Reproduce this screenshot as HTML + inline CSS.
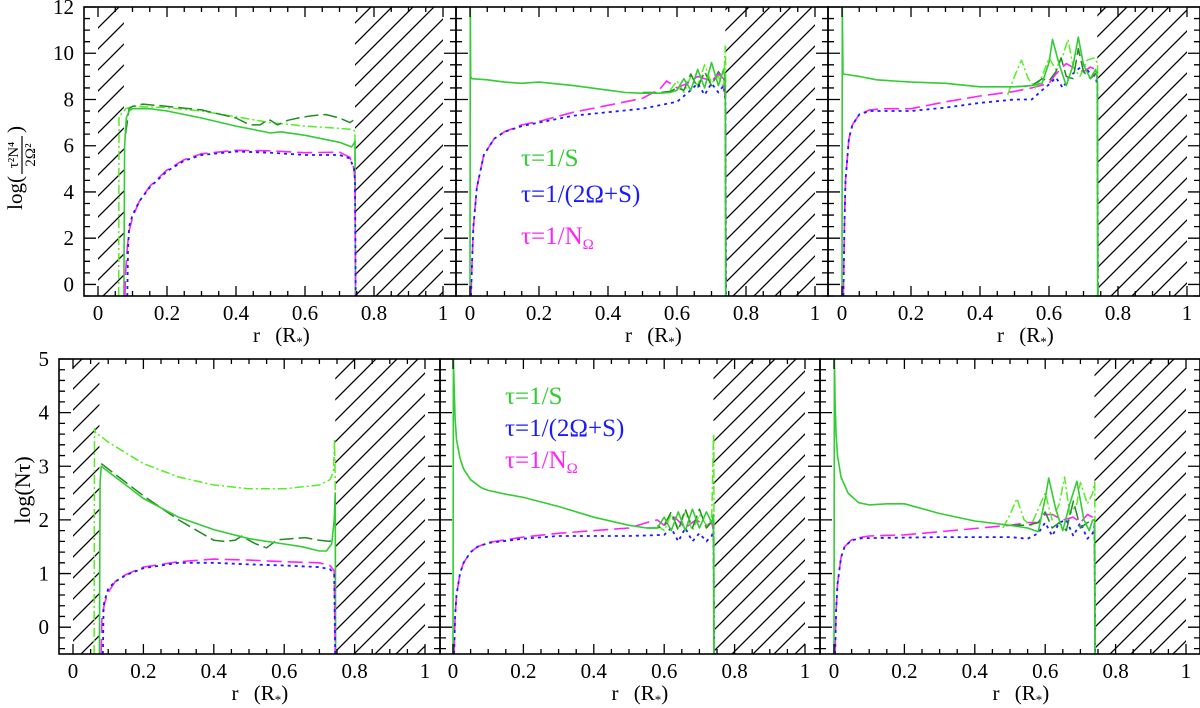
<!DOCTYPE html>
<html><head><meta charset="utf-8">
<style>
html,body{margin:0;padding:0;background:#fff;}
svg{display:block;font-family:"Liberation Serif",serif;}
</style></head>
<body>
<svg id="fig" width="1200" height="708" viewBox="0 0 1200 708" xmlns="http://www.w3.org/2000/svg">
<defs>
<pattern id="hatch" patternUnits="userSpaceOnUse" width="21" height="21">
<path d="M-2,23 L23,-2 M-2,2 L2,-2 M19,23 L23,19" stroke="#000" stroke-width="1.3"/>
</pattern>
</defs>
<g id="root"></g>
<g transform="translate(22,155) rotate(-90)">
<text x="-21" y="0" text-anchor="end" font-size="21">log(</text>
<text x="0" y="-4" text-anchor="middle" font-size="15">τ²N⁴</text>
<line x1="-19" y1="0" x2="19" y2="0" stroke="#000" stroke-width="1.2"/>
<text x="0" y="13" text-anchor="middle" font-size="15">2Ω²</text>
<text x="22" y="0" text-anchor="start" font-size="21">)</text>
</g>
</svg>
<script>
// ---------- DATA (radius r in R*, value in log units) ----------
// Top panel 1
const T1_S_r=[0.075,0.077,0.082,0.09,0.1,0.15,0.2,0.3,0.4,0.45,0.5,0.53,0.6,0.7,0.735,0.742,0.745,0.746];
const T1_S_v=[-0.5,6.0,7.2,7.5,7.6,7.6,7.5,7.2,6.85,6.7,6.55,6.6,6.45,6.15,5.95,6.1,6.2,-0.5];
const T1_D_r=[0.08,0.09,0.1,0.13,0.2,0.3,0.4,0.44,0.47,0.49,0.5,0.52,0.55,0.58,0.62,0.66,0.7,0.73,0.74];
const T1_D_v=[6.5,7.6,7.7,7.8,7.7,7.55,7.2,6.9,6.9,7.1,7.1,6.9,7.1,7.2,7.3,7.35,7.2,7.0,7.1];
const T1_C_r=[0.06,0.061,0.07,0.08,0.1,0.2,0.3,0.4,0.5,0.6,0.7,0.74,0.745,0.746];
const T1_C_v=[-0.5,7.3,7.4,7.6,7.7,7.65,7.5,7.25,7.0,6.85,6.75,6.7,6.6,-0.5];
const T1_B_r=[0.085,0.087,0.09,0.1,0.12,0.15,0.2,0.25,0.3,0.4,0.5,0.6,0.7,0.73,0.742,0.745,0.747];
const T1_B_v=[-0.5,1.5,2.5,3.0,3.6,4.2,4.9,5.35,5.6,5.75,5.7,5.6,5.6,5.45,5.0,4.5,-0.5];
const T1_M_r=[0.078,0.08,0.085,0.09,0.1,0.12,0.15,0.2,0.25,0.3,0.4,0.5,0.6,0.7,0.73,0.742,0.745,0.747];
const T1_M_v=[-0.5,0.5,1.6,2.3,2.9,3.6,4.25,4.95,5.4,5.65,5.8,5.78,5.7,5.72,5.5,5.0,4.5,-0.5];
// Top panel 2
const T2_S_r=[0.0,0.001,0.002,0.005,0.05,0.1,0.15,0.2,0.3,0.4,0.45,0.5,0.55,0.58,0.6,0.62,0.64,0.66,0.68,0.7,0.72,0.735,0.74,0.741];
const T2_S_v=[-0.5,12,9.0,8.9,8.85,8.75,8.7,8.75,8.6,8.4,8.3,8.27,8.27,8.3,8.4,8.9,8.4,9.3,8.5,9.6,8.6,9.3,8.8,-0.5];
const T2_D_r=[0.5,0.55,0.58,0.6,0.62,0.64,0.66,0.68,0.7,0.72,0.74];
const T2_D_v=[8.3,8.3,8.35,8.5,8.4,9.1,8.5,9.2,8.6,9.2,8.8];
const T2_C_r=[0.58,0.6,0.62,0.64,0.66,0.68,0.7,0.72,0.735,0.74,0.741,0.742];
const T2_C_v=[8.4,8.8,8.3,9.0,8.6,9.5,8.7,9.0,8.5,10.3,10.3,-0.5];
const T2_B_r=[0.003,0.006,0.01,0.02,0.04,0.07,0.1,0.15,0.2,0.3,0.4,0.5,0.6,0.64,0.66,0.68,0.7,0.72,0.735,0.74,0.742];
const T2_B_v=[-0.5,1.0,2.5,4.2,5.6,6.3,6.6,6.85,7.0,7.3,7.45,7.6,7.9,8.4,8.7,8.2,8.7,8.3,8.6,8.0,-0.5];
const T2_M_r=[0.003,0.006,0.01,0.02,0.04,0.07,0.1,0.15,0.2,0.3,0.4,0.5,0.55,0.57,0.6,0.63,0.66,0.7,0.72,0.735,0.74,0.742];
const T2_M_v=[-0.5,1.0,2.5,4.2,5.6,6.3,6.6,6.9,7.05,7.45,7.75,8.05,8.45,8.8,8.5,8.7,9.0,8.8,9.1,8.9,8.0,-0.5];
// Top panel 3
const T3_S_r=[0.0,0.001,0.003,0.05,0.1,0.15,0.2,0.3,0.4,0.5,0.55,0.58,0.6,0.61,0.63,0.65,0.67,0.685,0.7,0.72,0.735,0.74,0.741];
const T3_S_v=[-0.5,12,9.1,9.0,8.85,8.8,8.75,8.7,8.55,8.55,8.6,8.7,9.6,10.6,9.5,8.6,9.5,10.7,9.5,8.9,9.3,9.0,-0.5];
const T3_D_r=[0.5,0.55,0.58,0.6,0.62,0.635,0.65,0.67,0.685,0.7,0.72,0.74];
const T3_D_v=[8.55,8.6,8.9,8.8,9.2,9.8,9.0,8.9,10.2,9.2,8.9,9.2];
const T3_C_r=[0.48,0.5,0.52,0.54,0.56,0.58,0.6,0.62,0.64,0.655,0.67,0.69,0.71,0.73,0.74,0.741,0.742];
const T3_C_v=[8.2,9.0,9.7,8.9,8.5,9.0,9.8,9.3,9.9,10.6,9.4,9.0,9.7,9.8,9.6,9.6,-0.5];
const T3_B_r=[0.004,0.007,0.01,0.02,0.03,0.05,0.08,0.12,0.2,0.3,0.4,0.5,0.55,0.58,0.6,0.62,0.64,0.66,0.7,0.72,0.735,0.74,0.742];
const T3_B_v=[-0.5,2.5,4.5,6.3,6.9,7.35,7.5,7.5,7.5,7.65,7.85,8.0,8.0,8.4,8.65,8.95,8.5,9.0,9.5,9.1,9.0,8.6,-0.5];
const T3_M_r=[0.004,0.007,0.01,0.02,0.03,0.05,0.08,0.12,0.2,0.3,0.4,0.5,0.55,0.6,0.62,0.65,0.68,0.7,0.72,0.735,0.74,0.742];
const T3_M_v=[-0.5,2.5,4.5,6.3,6.9,7.35,7.55,7.6,7.6,7.9,8.15,8.35,8.5,8.7,9.1,9.55,9.3,9.2,9.4,9.3,8.8,-0.5];
// Bottom panel 1
const B1_S_r=[0.075,0.077,0.08,0.09,0.1,0.15,0.2,0.3,0.4,0.5,0.6,0.65,0.7,0.72,0.735,0.742,0.745,0.746];
const B1_S_v=[-0.5,2.7,3.0,2.95,2.9,2.65,2.4,2.05,1.82,1.65,1.55,1.5,1.42,1.42,1.55,2.0,2.5,-0.5];
const B1_D_r=[0.08,0.1,0.15,0.2,0.3,0.4,0.43,0.46,0.48,0.5,0.52,0.55,0.58,0.62,0.66,0.7,0.73,0.74];
const B1_D_v=[3.05,2.95,2.7,2.45,2.0,1.62,1.6,1.62,1.7,1.62,1.55,1.48,1.63,1.65,1.67,1.62,1.6,1.7];
const B1_C_r=[0.06,0.061,0.065,0.075,0.1,0.15,0.2,0.3,0.4,0.5,0.6,0.7,0.73,0.74,0.743,0.745,0.746];
const B1_C_v=[-0.5,3.7,3.6,3.58,3.45,3.25,3.05,2.8,2.65,2.58,2.58,2.65,2.75,2.9,3.5,2.8,-0.5];
const B1_B_r=[0.085,0.087,0.09,0.1,0.12,0.15,0.2,0.3,0.4,0.5,0.6,0.7,0.73,0.742,0.745];
const B1_B_v=[-0.5,0.4,0.5,0.72,0.85,0.97,1.1,1.2,1.2,1.17,1.15,1.12,1.08,1.0,-0.5];
const B1_M_r=[0.08,0.082,0.09,0.1,0.12,0.15,0.2,0.3,0.4,0.5,0.6,0.7,0.73,0.742,0.745];
const B1_M_v=[-0.5,0.2,0.45,0.65,0.85,0.98,1.12,1.22,1.27,1.25,1.22,1.2,1.15,1.05,-0.5];
// Bottom panel 2
const B2_S_r=[0.0,0.001,0.003,0.006,0.01,0.02,0.03,0.05,0.08,0.1,0.15,0.2,0.3,0.4,0.5,0.55,0.58,0.6,0.62,0.64,0.66,0.68,0.7,0.72,0.735,0.74,0.741];
const B2_S_v=[-0.5,5.0,4.5,3.9,3.5,3.15,2.95,2.75,2.6,2.55,2.48,2.42,2.25,2.05,1.9,1.85,1.85,2.05,1.8,2.15,1.8,2.2,1.85,2.15,1.95,2.1,-0.5];
const B2_D_r=[0.55,0.58,0.6,0.62,0.64,0.66,0.68,0.7,0.72,0.74];
const B2_D_v=[1.85,1.85,1.9,2.15,1.8,2.2,1.85,2.2,1.85,2.0];
const B2_C_r=[0.58,0.6,0.62,0.64,0.66,0.68,0.7,0.72,0.735,0.74,0.741,0.742];
const B2_C_v=[1.9,1.8,2.1,1.85,2.15,1.8,2.1,1.9,2.0,3.6,3.6,-0.5];
const B2_B_r=[0.003,0.006,0.01,0.02,0.03,0.05,0.07,0.1,0.2,0.3,0.4,0.5,0.6,0.62,0.64,0.66,0.68,0.7,0.72,0.735,0.74,0.742];
const B2_B_v=[-0.5,0.2,0.6,1.0,1.2,1.4,1.5,1.57,1.65,1.7,1.7,1.7,1.72,1.85,1.6,1.85,1.6,1.75,1.6,1.7,1.8,-0.5];
const B2_M_r=[0.003,0.006,0.01,0.02,0.03,0.05,0.07,0.1,0.2,0.3,0.4,0.5,0.55,0.58,0.6,0.63,0.66,0.69,0.72,0.735,0.74,0.742];
const B2_M_v=[-0.5,0.2,0.6,1.0,1.2,1.4,1.5,1.58,1.68,1.75,1.8,1.85,1.95,2.0,1.9,2.05,1.85,2.0,1.9,1.95,1.8,-0.5];
// Bottom panel 3
const B3_S_r=[0.0,0.001,0.003,0.006,0.01,0.02,0.04,0.07,0.1,0.15,0.2,0.3,0.4,0.5,0.55,0.58,0.6,0.61,0.63,0.65,0.67,0.69,0.71,0.725,0.735,0.74,0.741];
const B3_S_v=[-0.5,5.0,4.2,3.6,3.2,2.8,2.5,2.32,2.28,2.3,2.3,2.12,1.98,1.9,1.85,1.78,2.4,2.78,2.2,1.8,2.3,2.72,2.0,1.8,2.0,2.0,-0.5];
const B3_D_r=[0.5,0.55,0.58,0.6,0.62,0.64,0.66,0.68,0.7,0.72,0.74];
const B3_D_v=[1.9,1.9,1.95,2.15,1.85,1.95,1.8,2.35,1.85,1.95,2.0];
const B3_C_r=[0.48,0.5,0.52,0.54,0.56,0.58,0.6,0.62,0.64,0.655,0.67,0.69,0.7,0.72,0.735,0.74,0.741,0.742];
const B3_C_v=[1.85,2.1,2.4,2.0,1.9,2.2,2.5,2.0,2.3,2.8,2.1,2.3,2.7,2.3,2.5,2.7,2.7,-0.5];
const B3_B_r=[0.003,0.006,0.01,0.02,0.03,0.05,0.08,0.1,0.2,0.3,0.4,0.5,0.55,0.58,0.6,0.62,0.64,0.66,0.68,0.7,0.72,0.735,0.74,0.742];
const B3_B_v=[-0.5,0.3,0.8,1.3,1.5,1.62,1.66,1.66,1.67,1.68,1.68,1.68,1.65,1.75,1.95,1.7,1.95,2.0,1.7,1.95,1.65,1.75,1.9,-0.5];
const B3_M_r=[0.003,0.006,0.01,0.02,0.03,0.05,0.08,0.1,0.2,0.3,0.4,0.5,0.55,0.58,0.6,0.62,0.65,0.68,0.7,0.72,0.735,0.74,0.742];
const B3_M_v=[-0.5,0.3,0.8,1.3,1.5,1.63,1.68,1.7,1.72,1.78,1.84,1.9,1.95,1.95,2.1,2.1,2.0,2.05,1.95,2.1,2.05,1.9,-0.5];

const xTickLabels=["0","0.2","0.4","0.6","0.8","1"];
const topYTickLabels=["0","2","4","6","8","10","12"];
const botYTickLabels=["0","1","2","3","4","5"];
const legendLabels=["τ=1/S","τ=1/(2Ω+S)","τ=1/N"];

// ---------- RENDER ----------
const NS="http://www.w3.org/2000/svg";
const root=document.getElementById('root');
function mk(tag,attrs,parent){const e=document.createElementNS(NS,tag);for(const k in attrs)e.setAttribute(k,attrs[k]);(parent||root).appendChild(e);return e;}

const STY={
 S:{stroke:"#33cc33",dash:null,w:1.6},
 D:{stroke:"#228b22",dash:"14,5",w:1.5},
 C:{stroke:"#55ee22",dash:"9,3,2,3",w:1.5},
 B:{stroke:"#1a1aff",dash:"3,4",w:1.8},
 M:{stroke:"#ff22ff",dash:"15,6",w:1.6}
};

const panels=[
 {id:"top-1",x0:84,w:372,y0:7,y1:296,ymin:-0.5,ymax:12,yMajor:2,yMinor:0.5,px0:14,leftHatch:[0,0.075],rightHatch:[0.745,1],yLabels:topYTickLabels,showY:true,
  series:{C:[T1_C_r,T1_C_v],D:[T1_D_r,T1_D_v],S:[T1_S_r,T1_S_v],M:[T1_M_r,T1_M_v],B:[T1_B_r,T1_B_v]}},
 {id:"top-2",x0:456,w:372,y0:7,y1:296,ymin:-0.5,ymax:12,yMajor:2,yMinor:0.5,px0:14,leftHatch:null,rightHatch:[0.74,1],yLabels:topYTickLabels,showY:false,legend:[521,166,202,244],
  series:{C:[T2_C_r,T2_C_v],D:[T2_D_r,T2_D_v],M:[T2_M_r,T2_M_v],B:[T2_B_r,T2_B_v],S:[T2_S_r,T2_S_v]}},
 {id:"top-3",x0:828,w:372,y0:7,y1:296,ymin:-0.5,ymax:12,yMajor:2,yMinor:0.5,px0:14,leftHatch:null,rightHatch:[0.74,1],yLabels:topYTickLabels,showY:false,
  series:{M:[T3_M_r,T3_M_v],B:[T3_B_r,T3_B_v],C:[T3_C_r,T3_C_v],D:[T3_D_r,T3_D_v],S:[T3_S_r,T3_S_v]}},
 {id:"bottom-1",x0:59,w:381,y0:359,y1:654,ymin:-0.5,ymax:5,yMajor:1,yMinor:0.2,px0:14,leftHatch:[0,0.075],rightHatch:[0.745,1],yLabels:botYTickLabels,showY:true,
  series:{C:[B1_C_r,B1_C_v],D:[B1_D_r,B1_D_v],S:[B1_S_r,B1_S_v],M:[B1_M_r,B1_M_v],B:[B1_B_r,B1_B_v]}},
 {id:"bottom-2",x0:440,w:380,y0:359,y1:654,ymin:-0.5,ymax:5,yMajor:1,yMinor:0.2,px0:13,leftHatch:null,rightHatch:[0.74,1],yLabels:botYTickLabels,showY:false,legend:[505,404,436,468],
  series:{M:[B2_M_r,B2_M_v],B:[B2_B_r,B2_B_v],C:[B2_C_r,B2_C_v],D:[B2_D_r,B2_D_v],S:[B2_S_r,B2_S_v]}},
 {id:"bottom-3",x0:820,w:380,y0:359,y1:654,ymin:-0.5,ymax:5,yMajor:1,yMinor:0.2,px0:14,leftHatch:null,rightHatch:[0.74,1],yLabels:botYTickLabels,showY:false,
  series:{M:[B3_M_r,B3_M_v],B:[B3_B_r,B3_B_v],C:[B3_C_r,B3_C_v],D:[B3_D_r,B3_D_v],S:[B3_S_r,B3_S_v]}}
];
const names={S:"tau-1-over-s-solid",D:"tau-1-over-s-long-dash",C:"tau-1-over-s-dash-dot",B:"tau-2omega-plus-s-dotted",M:"tau-1-over-n-omega-dashed"};

panels.forEach(p=>{
 const scaleX=(p.w===372)?345:352;
 const X=r=>p.x0+p.px0+r*scaleX;
 const Y=v=>p.y1-(v-p.ymin)/(p.ymax-p.ymin)*(p.y1-p.y0);
 const g=mk('g',{});
 
 
 const cid='clip-'+p.id;
 const cp=mk('clipPath',{id:cid},g);
 mk('rect',{x:p.x0,y:p.y0,width:p.w,height:p.y1-p.y0},cp);
 const inner=mk('g',{'clip-path':'url(#'+cid+')'},g);
 [p.leftHatch,p.rightHatch].forEach((h,i)=>{
  if(!h)return;
  const hr=mk('rect',{x:X(h[0]),y:p.y0,width:X(h[1])-X(h[0]),height:p.y1-p.y0,fill:'url(#hatch)'},inner);
  
  
 });
 for(const k in p.series){
  const [rs,vs]=p.series[k];
  const pts=rs.map((r,i)=>X(r).toFixed(1)+','+Y(Math.max(p.ymin-0.2,Math.min(p.ymax+0.2,vs[i]))).toFixed(1)).join(' ');
  const st=STY[k];
  const a={points:pts,fill:'none',stroke:st.stroke,'stroke-width':st.w,'stroke-linejoin':'round'};
  if(st.dash)a['stroke-dasharray']=st.dash;
  const pl=mk('polyline',a,inner);
  
  
 }
 const fr=mk('rect',{x:p.x0,y:p.y0,width:p.w,height:p.y1-p.y0,fill:'none',stroke:'#000','stroke-width':1.6},g);
 
 
 let d='';
 for(let i=0;i<=20;i++){
  const r=i*0.05;const x=X(r);const major=(i%4===0);const L=major?10:5;
  d+=`M${x},${p.y1}v${-L}M${x},${p.y0}v${L}`;
 }
 for(let v=Math.ceil(p.ymin/p.yMinor)*p.yMinor;v<=p.ymax+1e-6;v+=p.yMinor){
  const vv=Math.round(v*100)/100;const y=Y(vv);
  const major=Math.abs(vv/p.yMajor-Math.round(vv/p.yMajor))<1e-6;const L=major?12:6;
  d+=`M${p.x0},${y}h${L}M${p.x0+p.w},${y}h${-L}`;
 }
 const tk=mk('path',{d:d,stroke:'#000','stroke-width':1.3,fill:'none'},g);
 
 
 xTickLabels.forEach((t,i)=>{
  const tx=mk('text',{x:X(i*0.2),y:p.y1+24,'text-anchor':'middle','font-size':21},g);
  tx.textContent=t;
  
  
 });
 const xr=mk('text',{x:X(0.5)-14,y:p.y1+46,'text-anchor':'middle','font-size':21},g);
 xr.textContent='r';
 
 
 const xt=mk('text',{x:X(0.5)+22,y:p.y1+46,'text-anchor':'middle','font-size':21},g);
 xt.textContent='(R';
 const sub=mk('tspan',{'font-size':13,dy:4},xt);sub.textContent='*';
 const cl=mk('tspan',{dy:-4},xt);cl.textContent=')';
 
 
 if(p.showY){
  p.yLabels.forEach(t=>{
   const ty=mk('text',{x:p.x0-10,y:Y(parseFloat(t))+7,'text-anchor':'end','font-size':21},g);
   ty.textContent=t;
   
   
  });
 }
 if(p.legend){
  const cols=[STY.S.stroke,"#1a1aff","#ff22ff"];
  legendLabels.forEach((t,i)=>{
   const lt=mk('text',{x:p.legend[0],y:p.legend[i+1],'font-size':25,fill:cols[i]},g);
   lt.textContent=t;
   if(i===2){const s=mk('tspan',{'font-size':15,dy:5},lt);s.textContent='Ω';}
   
   
  });
 }
});

const yt2=mk('text',{transform:'translate(30,490) rotate(-90)','text-anchor':'middle','font-size':22});
yt2.textContent='log(Nτ)';


</script>
</body></html>
